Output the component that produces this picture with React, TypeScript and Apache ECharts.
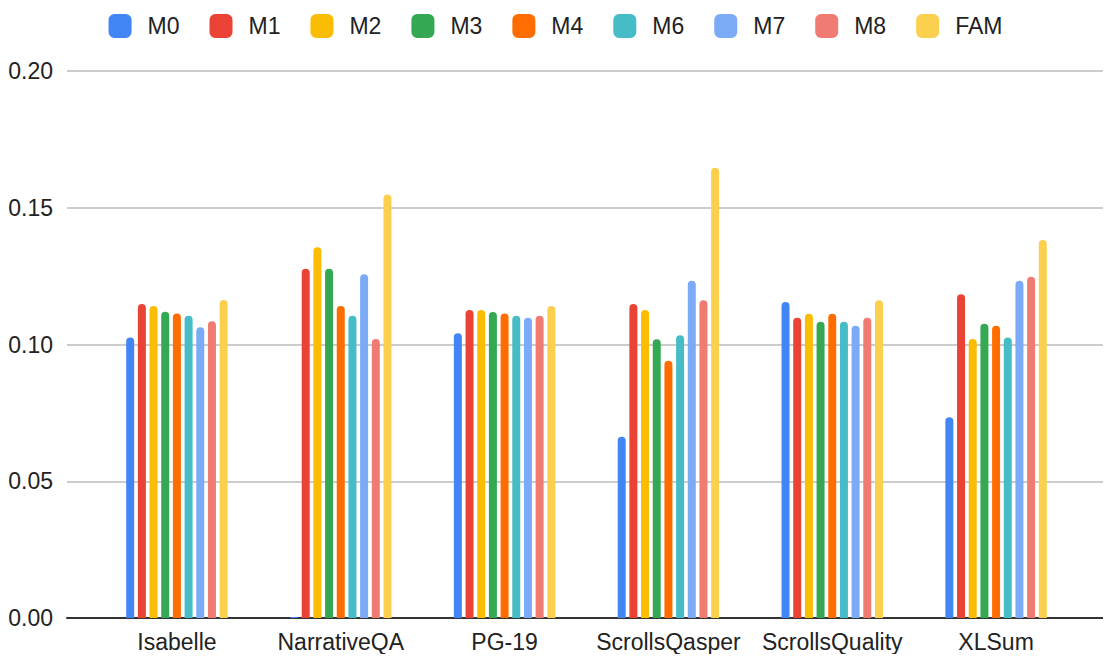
import { useEffect, useRef } from 'react';
import * as echarts from 'echarts';

const categories = ['Isabelle', 'NarrativeQA', 'PG-19', 'ScrollsQasper', 'ScrollsQuality', 'XLSum'];
const models = ['M0', 'M1', 'M2', 'M3', 'M4', 'M6', 'M7', 'M8', 'FAM'];
const colors = ['#4285F4', '#EA4335', '#FBBC04', '#34A853', '#FF6D01', '#46BDC6', '#7BAAF7', '#F07B72', '#FCD04F'];

const m0 = [0.1026, 0.0004, 0.1041, 0.0663, 0.1155, 0.0734];
const m1 = [0.1148, 0.1277, 0.1126, 0.1148, 0.1098, 0.1184];
const m2 = [0.1141, 0.1356, 0.1126, 0.1126, 0.1112, 0.102];
const m3 = [0.112, 0.1277, 0.1119, 0.1019, 0.1083, 0.1076];
const m4 = [0.1113, 0.1141, 0.1113, 0.0941, 0.1112, 0.1069];
const m6 = [0.1105, 0.1105, 0.1105, 0.1034, 0.1083, 0.1026];
const m7 = [0.1063, 0.1257, 0.1098, 0.1233, 0.1069, 0.1233];
const m8 = [0.1085, 0.102, 0.1105, 0.1162, 0.1098, 0.1248];
const fam = [0.1163, 0.1548, 0.1141, 0.1646, 0.1162, 0.1382];

const seriesValues = [m0, m1, m2, m3, m4, m6, m7, m8, fam];

const FONT = '"Liberation Sans", Arial, sans-serif';

export default function App() {
  const chartRef = useRef<HTMLDivElement | null>(null);

  useEffect(() => {
    if (!chartRef.current) {
      return;
    }
    const chart = echarts.init(chartRef.current, null, { renderer: 'svg' });
    chart.setOption({
      animation: false,
      backgroundColor: '#ffffff',
      textStyle: { fontFamily: FONT },
      color: colors,
      legend: {
        top: 9,
        left: 'center',
        itemWidth: 23,
        itemHeight: 24,
        itemGap: 30,
        icon: 'roundRect',
        textStyle: { fontSize: 23, color: '#222222', fontFamily: FONT, padding: [0, 0, 0, 11] },
        data: models,
      },
      grid: [
        { left: 67, right: 5, top: 71, bottom: 44 },
        { left: 95, right: 33, top: 71, bottom: 44 },
      ],
      xAxis: [
        {
          type: 'value',
          gridIndex: 0,
          min: 0,
          max: 1,
          axisLabel: { show: false },
          axisTick: { show: false },
          splitLine: { show: false },
          axisLine: { show: true, lineStyle: { color: '#333333', width: 2 } },
        },
        {
          type: 'category',
          gridIndex: 1,
          data: categories,
          axisLine: { show: false },
          axisTick: { show: false },
          axisLabel: { interval: 0, fontSize: 23, color: '#222222', margin: 12, fontFamily: FONT },
        },
      ],
      yAxis: [
        {
          type: 'value',
          gridIndex: 0,
          min: 0,
          max: 0.2,
          interval: 0.05,
          axisLine: { show: false },
          axisTick: { show: false },
          axisLabel: {
            fontSize: 23,
            color: '#222222',
            margin: 14,
            fontFamily: FONT,
            formatter: (v: number) => v.toFixed(2),
          },
          splitLine: { lineStyle: { color: '#cccccc', width: 2 } },
        },
        {
          type: 'value',
          gridIndex: 1,
          min: 0,
          max: 0.2,
          interval: 0.05,
          show: false,
          splitLine: { show: false },
        },
      ],
      series: models.map((name, i) => ({
        name,
        type: 'bar',
        xAxisIndex: 1,
        yAxisIndex: 1,
        barWidth: 8,
        barGap: '46%',
        itemStyle: { color: colors[i], borderRadius: [4, 4, 0, 0] },
        data: seriesValues[i],
      })),
    });
    return () => chart.dispose();
  }, []);

  return <div ref={chartRef} style={{ width: 1111, height: 662, margin: -8 }} />;
}
